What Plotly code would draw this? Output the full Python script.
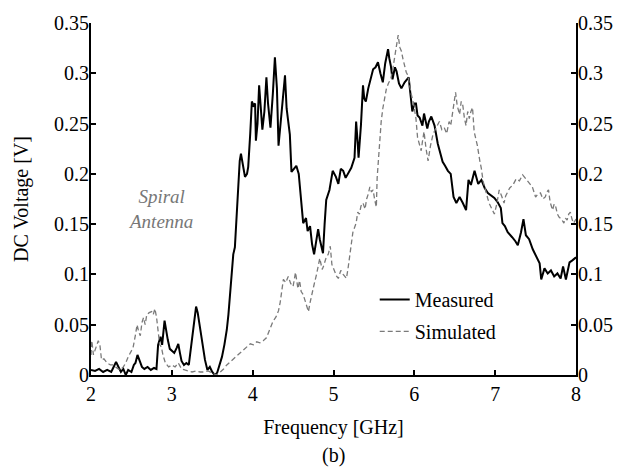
import plotly.graph_objects as go

# ---- data ----
meas_f = [2.00, 2.05, 2.10, 2.15, 2.20, 2.25, 2.28, 2.31, 2.34, 2.37, 2.40, 2.43, 2.46, 2.50, 2.53, 2.55,
          2.575, 2.60, 2.63, 2.66, 2.70, 2.74, 2.78, 2.81, 2.83, 2.86, 2.88, 2.91, 2.93, 2.95, 2.975, 3.00,
          3.03, 3.06, 3.08, 3.10, 3.12, 3.15, 3.18, 3.21, 3.24, 3.27, 3.30, 3.32, 3.35, 3.38, 3.41, 3.44,
          3.47, 3.50, 3.53, 3.56, 3.59, 3.62, 3.65, 3.68, 3.70, 3.72, 3.74, 3.76, 3.78, 3.80, 3.82, 3.84,
          3.855, 3.88, 3.905, 3.93, 3.945, 3.97, 3.99, 4.01, 4.03, 4.04, 4.06, 4.08, 4.10, 4.12, 4.145, 4.17,
          4.19, 4.22, 4.25, 4.275, 4.30, 4.32, 4.345, 4.37, 4.40, 4.42, 4.46, 4.48, 4.51, 4.54, 4.57, 4.59,
          4.61, 4.625, 4.66, 4.68, 4.71, 4.735, 4.76, 4.785, 4.81, 4.83, 4.87, 4.89, 4.91, 4.95, 4.99, 5.03,
          5.06, 5.09, 5.12, 5.15, 5.18, 5.22, 5.26, 5.28, 5.30, 5.31, 5.34, 5.365, 5.38, 5.40, 5.43, 5.45,
          5.49, 5.52, 5.55, 5.58, 5.61, 5.64, 5.675, 5.69, 5.71, 5.73, 5.76, 5.78, 5.81, 5.84, 5.88, 5.93,
          5.955, 5.975, 6.00, 6.02, 6.04, 6.065, 6.10, 6.12, 6.16, 6.18, 6.21, 6.25, 6.29, 6.32, 6.35, 6.38,
          6.415, 6.45, 6.485, 6.52, 6.56, 6.60, 6.64, 6.67, 6.70, 6.745, 6.79, 6.83, 6.87, 6.91, 6.95, 6.99,
          7.03, 7.07, 7.09, 7.12, 7.155, 7.18, 7.21, 7.25, 7.28, 7.32, 7.35, 7.38, 7.42, 7.465, 7.51, 7.55,
          7.57, 7.61, 7.65, 7.69, 7.73, 7.77, 7.81, 7.84, 7.875, 7.92, 7.955, 8.00]
meas_v = [0.005, 0.004, 0.006, 0.003, 0.005, 0.003, 0.008, 0.013, 0.008, 0.003, 0.006, 0.000, 0.005, 0.003, 0.010, 0.012,
          0.020, 0.014, 0.008, 0.006, 0.008, 0.005, 0.007, 0.006, 0.030, 0.038, 0.030, 0.054, 0.042, 0.035, 0.026, 0.024,
          0.022, 0.027, 0.031, 0.022, 0.014, 0.010, 0.012, 0.010, 0.030, 0.050, 0.068, 0.062, 0.045, 0.030, 0.015, 0.005,
          0.008, 0.003, 0.000, 0.002, 0.010, 0.018, 0.030, 0.045, 0.060, 0.078, 0.095, 0.120, 0.127, 0.158, 0.185, 0.213,
          0.220, 0.210, 0.197, 0.200, 0.207, 0.240, 0.272, 0.268, 0.270, 0.233, 0.250, 0.288, 0.270, 0.244, 0.262, 0.296,
          0.270, 0.246, 0.280, 0.316, 0.285, 0.228, 0.250, 0.273, 0.298, 0.265, 0.239, 0.202, 0.205, 0.208, 0.200, 0.184,
          0.170, 0.151, 0.156, 0.143, 0.148, 0.130, 0.120, 0.132, 0.145, 0.135, 0.121, 0.150, 0.174, 0.184, 0.203, 0.197,
          0.190, 0.205, 0.203, 0.196, 0.200, 0.206, 0.216, 0.252, 0.230, 0.216, 0.249, 0.288, 0.275, 0.272, 0.285, 0.291,
          0.304, 0.306, 0.311, 0.300, 0.291, 0.310, 0.324, 0.315, 0.307, 0.294, 0.306, 0.302, 0.290, 0.285, 0.291, 0.296,
          0.280, 0.262, 0.270, 0.270, 0.258, 0.256, 0.248, 0.260, 0.245, 0.252, 0.257, 0.248, 0.230, 0.222, 0.212, 0.208,
          0.203, 0.200, 0.177, 0.171, 0.177, 0.171, 0.164, 0.194, 0.189, 0.203, 0.190, 0.194, 0.186, 0.181, 0.178, 0.176,
          0.172, 0.166, 0.151, 0.148, 0.142, 0.140, 0.137, 0.133, 0.129, 0.142, 0.155, 0.139, 0.135, 0.125, 0.117, 0.111,
          0.095, 0.106, 0.101, 0.104, 0.098, 0.101, 0.096, 0.108, 0.095, 0.112, 0.114, 0.117]

sim_f = [2.00, 2.01, 2.03, 2.06, 2.09, 2.11, 2.13, 2.16, 2.20, 2.24, 2.28, 2.32, 2.36, 2.40, 2.43, 2.46,
         2.49, 2.52, 2.55, 2.57, 2.59, 2.61, 2.63, 2.65, 2.67, 2.69, 2.72, 2.75, 2.77, 2.79, 2.81, 2.83,
         2.85, 2.87, 2.89, 2.92, 2.96, 3.00, 3.04, 3.08, 3.12, 3.16, 3.20, 3.25, 3.30, 3.35, 3.40, 3.45,
         3.50, 3.55, 3.60, 3.64, 3.68, 3.72, 3.76, 3.80, 3.84, 3.88, 3.92, 3.97, 4.01, 4.05, 4.09, 4.13,
         4.17, 4.21, 4.25, 4.29, 4.32, 4.34, 4.36, 4.38, 4.41, 4.44, 4.47, 4.50, 4.53, 4.56, 4.58, 4.60,
         4.625, 4.66, 4.69, 4.71, 4.73, 4.76, 4.79, 4.81, 4.83, 4.86, 4.88, 4.91, 4.935, 4.96, 4.98, 5.015,
         5.04, 5.06, 5.09, 5.12, 5.16, 5.18, 5.20, 5.22, 5.24, 5.26, 5.28, 5.30, 5.32, 5.34, 5.365, 5.39,
         5.41, 5.43, 5.45, 5.47, 5.49, 5.51, 5.53, 5.54, 5.555, 5.57, 5.59, 5.61, 5.63, 5.655, 5.68, 5.71,
         5.735, 5.76, 5.78, 5.80, 5.82, 5.84, 5.86, 5.88, 5.90, 5.92, 5.94, 5.96, 5.99, 6.02, 6.04, 6.06,
         6.085, 6.10, 6.12, 6.145, 6.17, 6.20, 6.23, 6.27, 6.31, 6.34, 6.37, 6.40, 6.43, 6.45, 6.47, 6.49,
         6.51, 6.53, 6.56, 6.58, 6.60, 6.62, 6.64, 6.66, 6.68, 6.70, 6.72, 6.74, 6.76, 6.78, 6.81, 6.83,
         6.85, 6.87, 6.89, 6.91, 6.93, 6.96, 6.99, 7.02, 7.05, 7.08, 7.11, 7.13, 7.15, 7.18, 7.22, 7.26,
         7.30, 7.34, 7.37, 7.40, 7.43, 7.46, 7.48, 7.50, 7.53, 7.56, 7.59, 7.62, 7.64, 7.66, 7.68, 7.71,
         7.73, 7.75, 7.77, 7.79, 7.82, 7.85, 7.87, 7.89, 7.91, 7.93, 7.95, 7.97, 8.00]
sim_v = [0.020, 0.034, 0.020, 0.028, 0.034, 0.030, 0.015, 0.016, 0.012, 0.010, 0.010, 0.007, 0.005, 0.008, 0.012, 0.018,
         0.022, 0.027, 0.040, 0.050, 0.043, 0.039, 0.052, 0.057, 0.050, 0.060, 0.062, 0.063, 0.060, 0.066, 0.058, 0.045,
         0.030, 0.028, 0.020, 0.012, 0.008, 0.010, 0.008, 0.012, 0.006, 0.005, 0.004, 0.003, 0.004, 0.003, 0.003, 0.004,
         0.002, 0.000, 0.003, 0.006, 0.010, 0.013, 0.016, 0.019, 0.021, 0.024, 0.028, 0.031, 0.030, 0.033, 0.032, 0.034,
         0.037, 0.045, 0.053, 0.058, 0.064, 0.072, 0.082, 0.095, 0.092, 0.098, 0.091, 0.088, 0.102, 0.086, 0.094, 0.083,
         0.080, 0.072, 0.063, 0.072, 0.080, 0.090, 0.100, 0.108, 0.116, 0.105, 0.109, 0.117, 0.120, 0.128, 0.110, 0.103,
         0.098, 0.096, 0.104, 0.100, 0.096, 0.106, 0.116, 0.130, 0.142, 0.146, 0.151, 0.162, 0.160, 0.168, 0.171, 0.165,
         0.175, 0.180, 0.187, 0.182, 0.184, 0.174, 0.167, 0.196, 0.215, 0.236, 0.252, 0.265, 0.275, 0.285, 0.290, 0.295,
         0.305, 0.317, 0.328, 0.338, 0.326, 0.322, 0.314, 0.308, 0.301, 0.298, 0.288, 0.280, 0.270, 0.255, 0.236, 0.230,
         0.223, 0.232, 0.242, 0.225, 0.213, 0.228, 0.239, 0.246, 0.252, 0.244, 0.246, 0.240, 0.252, 0.248, 0.259, 0.270,
         0.281, 0.268, 0.259, 0.272, 0.268, 0.255, 0.248, 0.262, 0.255, 0.262, 0.266, 0.242, 0.236, 0.228, 0.213, 0.205,
         0.193, 0.188, 0.181, 0.175, 0.170, 0.165, 0.160, 0.170, 0.184, 0.178, 0.171, 0.178, 0.181, 0.186, 0.189, 0.195,
         0.193, 0.199, 0.196, 0.193, 0.190, 0.187, 0.182, 0.177, 0.180, 0.181, 0.175, 0.177, 0.182, 0.184, 0.172, 0.164,
         0.170, 0.167, 0.160, 0.157, 0.155, 0.151, 0.156, 0.154, 0.160, 0.162, 0.155, 0.151, 0.155]

y_ticks = [0, 0.05, 0.1, 0.15, 0.2, 0.25, 0.3, 0.35]
x_ticks = [2, 3, 4, 5, 6, 7, 8]

FONT = "Times New Roman, Liberation Serif, DejaVu Serif, serif"

fig = go.Figure()
fig.add_trace(go.Scatter(x=meas_f, y=meas_v, mode="lines", name="Measured",
                         legendgroup="m",
                         line=dict(color="black", width=2)))
fig.add_trace(go.Scatter(x=sim_f, y=sim_v, mode="lines", name="Simulated",
                         legendgroup="s",
                         line=dict(color="#7a7a7a", width=1.3, dash="5px,3px")))
# invisible trace to carry the right-hand axis
fig.add_trace(go.Scatter(x=[2, 8], y=[0, 0], yaxis="y2", mode="lines",
                         line=dict(width=0), showlegend=False, hoverinfo="skip"))

axis_common = dict(showgrid=False, zeroline=False, showline=True, linecolor="black",
                   linewidth=2, ticks="inside", ticklen=5, tickwidth=2, tickcolor="black",
                   tickfont=dict(family=FONT, size=20, color="black"))

fig.update_layout(
    width=626, height=470,
    margin=dict(l=91, r=50, t=17, b=95),
    paper_bgcolor="white", plot_bgcolor="white",
    font=dict(family=FONT, color="black"),
    xaxis=dict(range=[2, 8], tickvals=x_ticks, **axis_common,
               title=dict(text="Frequency [GHz]", font=dict(family=FONT, size=20), standoff=16)),
    yaxis=dict(range=[0, 0.35], tickvals=y_ticks, ticklabelstandoff=-4, **axis_common,
               title=dict(text="DC Voltage [V]", font=dict(family=FONT, size=20), standoff=20)),
    yaxis2=dict(range=[0, 0.35], tickvals=y_ticks, overlaying="y", side="right",
                ticklabelstandoff=-4, **axis_common),
    legend=dict(x=0.585, y=0.27, xanchor="left", yanchor="top",
                font=dict(family=FONT, size=20, color="black"),
                bgcolor="rgba(0,0,0,0)", tracegroupgap=3),
    showlegend=True,
)

fig.add_annotation(x=2.86, y=0.165, xref="x", yref="y", showarrow=False,
                   text="<i>Spiral<br>Antenna</i>",
                   font=dict(family=FONT, size=19, color="#777777"), align="center")
fig.add_annotation(x=0.5, y=-0.228, xref="paper", yref="paper", showarrow=False,
                   text="(b)", font=dict(family=FONT, size=20, color="black"),
                   yanchor="middle")

fig.write_html("out.html")
